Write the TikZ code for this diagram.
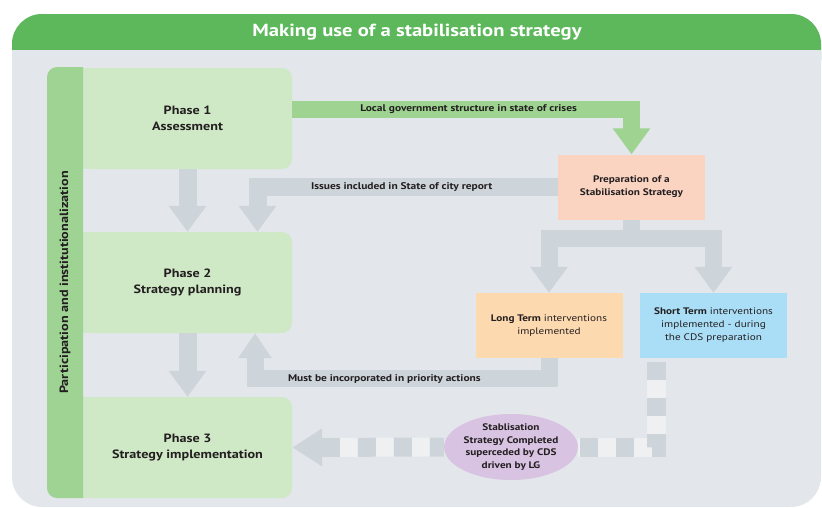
\documentclass[tikz,border=0pt]{standalone}
\usepackage{fontspec}
\setmainfont{PT Sans}[FakeStretch=1.18]
\usetikzlibrary{arrows.meta,shapes.geometric}

\definecolor{hdrgreen}{HTML}{5CB85A}
\definecolor{panelgrey}{HTML}{E3E6EA}
\definecolor{bargreen}{HTML}{9FD394}
\definecolor{phasegreen}{HTML}{CFE8C6}
\definecolor{arrowgrey}{HTML}{CDD4DA}
\definecolor{arrowgreen}{HTML}{9ED391}
\definecolor{dashlight}{HTML}{EEF0F2}
\definecolor{prepfill}{HTML}{FAD3C1}
\definecolor{longfill}{HTML}{FDD9B0}
\definecolor{shortfill}{HTML}{A9DEF6}
\definecolor{ellfill}{HTML}{D8C3E2}
\definecolor{txt}{HTML}{231F20}

\tikzset{
  phase/.style={fill=phasegreen, rounded corners=10pt, minimum width=209pt,
    minimum height=101pt, inner sep=0pt, align=center, text=txt,
    font=\bfseries\fontsize{12}{16}\selectfont},
  box/.style={minimum width=147pt, minimum height=65pt, inner sep=0pt,
    align=center, text=txt, font=\fontsize{9.5}{13}\selectfont},
  lbl/.style={inner sep=0pt, text=txt, font=\bfseries\fontsize{9.7}{11}\selectfont},
  fatarrow/.style={draw=arrowgrey, line width=18pt, line join=miter,
    -{Triangle[width=36pt,length=26pt]}},
  greenarrow/.style={fatarrow, draw=arrowgreen, line width=17pt},
  dashbase/.style={draw=dashlight, line width=19pt, line join=miter},
  dasharrow/.style={draw=arrowgrey, line width=19pt, line join=miter,
    dash pattern=on 18pt off 18pt},
}

\begin{document}
\begin{tikzpicture}[x=1pt, y=-1pt]
  \useasboundingbox (0,0) rectangle (822,507);

  % panel and header band
  \fill[panelgrey, rounded corners=30pt] (12,14) rectangle (821,507);
  \fill[hdrgreen, rounded corners=30pt] (12,14) rectangle (821,90);
  \fill[panelgrey] (12,50) rectangle (821,100);
  \node[text=white, font=\bfseries\fontsize{17.5}{20}\selectfont] (ttl) at (417,32)
    {Making use of a stabilisation strategy};

  % phases
  \node[phase] (p1) at (187.5,118.5) {Phase 1\\Assessment};
  \node[phase] (p2) at (187.5,282.5) {Phase 2\\Strategy planning};
  \node[phase] (p3) at (187.5,447.5) {Phase 3\\Strategy implementation};
  \fill[phasegreen] (p1.north west) rectangle ([xshift=12pt]p1.south west);
  \fill[phasegreen] (p2.north west) rectangle ([xshift=12pt]p2.south west);
  \fill[phasegreen] (p3.north west) rectangle ([xshift=12pt]p3.south west);

  % side bar
  \fill[bargreen] (83,67) [rounded corners=10pt] -- (47,67) -- (47,498)
    [sharp corners] -- (83,498) -- cycle;
  \node[lbl, rotate=90, font=\bfseries\fontsize{12}{14}\selectfont] (side) at (65,282.5)
    {Participation and institutionalization};

  % boxes
  \node[box, fill=prepfill, font=\bfseries\fontsize{9.5}{13}\selectfont] (prep) at (631.5,187)
    {Preparation of a\\Stabilisation Strategy};
  \node[box, fill=longfill] (long) at (549,325.5)
    {\textbf{Long Term} interventions\\implemented};
  \node[box, fill=shortfill] (short) at (713.5,325.5)
    {\textbf{Short Term} interventions\\implemented - during\\the CDS preparation};
  \node[ellipse, fill=ellfill, minimum width=129pt, minimum height=66pt, inner sep=0pt,
    align=center, text=txt, font=\bfseries\fontsize{9.5}{12.5}\selectfont] (ell) at (511,447)
    {Stablisation\\Strategy Completed\\superceded by CDS\\driven by LG};

  % arrows
  \draw[greenarrow] ([yshift=9pt]p1.east) -| node[lbl, pos=0.26]
    {Local government structure in state of crises} (prep.north);
  \draw[fatarrow] (p1.south) -- (p2.north);
  \draw[fatarrow] (p2.south) -- (p3.north);
  \draw[fatarrow] (prep.west) -| node[lbl, pos=0.26]
    {Issues included in State of city report} ([xshift=70pt]p2.north);
  \draw[fatarrow, line width=17pt] (prep.south) -- ++(0,18.5) -| (long.north);
  \draw[fatarrow, line width=17pt] (prep.south) -- ++(0,18.5) -| (short.north);
  \draw[fatarrow, line width=17pt, -{Triangle[width=32pt,length=25pt]}]
    (long.south) -- ++(0,20.5) -| node[lbl, pos=0.28]
    {Must be incorporated in priority actions} ([xshift=67.5pt]p2.south);

  % dashed route through the ellipse
  \draw[dashbase] ([shift={(17,4)}]short.south west) |- (ell.east);
  \draw[dasharrow] ([shift={(17,4)}]short.south west) |- (ell.east);
  \draw[dashbase, -{Triangle[width=36pt,length=30pt]}] (ell.west) -- (p3.east);
  \draw[dasharrow, dash phase=4pt, -{Triangle[width=36pt,length=30pt]}] (ell.west) -- (p3.east);
\end{tikzpicture}
\end{document}
